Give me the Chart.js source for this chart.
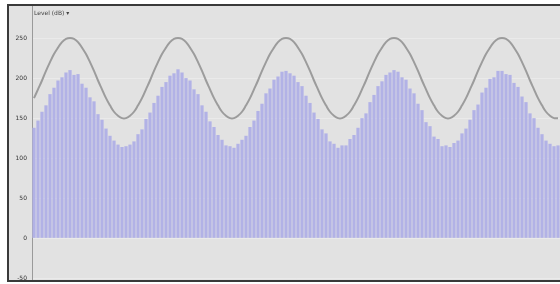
<!DOCTYPE html>
<html>
<head>
<meta charset="utf-8">
<script src="https://cdn.jsdelivr.net/npm/chart.js@4/dist/chart.umd.min.js"></script>
<style>
  body { margin: 0; background: #fff; }
  #box {
    position: absolute; left: 7px; top: 4px; width: 553px; height: 278px;
    box-sizing: border-box; background: #e2e2e2;
    border-top: 2px solid #3a3a3a; border-left: 2px solid #3a3a3a; border-bottom: 2px solid #3a3a3a;
  }
  #wrap { position: relative; width: 551px; height: 274px; }
  #tag {
    position: absolute; left: 34px; top: 9px; font: 6px "DejaVu Sans", sans-serif; color: #444;
  }
</style>
</head>
<body>
<div id="box"><div id="wrap"><canvas id="chart"></canvas></div></div>
<div id="tag">Level (dB) ▾</div>
<script>
// y tick values
const yTicks = [250, 200, 150, 100, 50, 0, -50];

// smooth reference level (grey curve)
const level = [
  175, 186, 197, 209, 220, 230, 238, 245, 249,
  250, 249, 245, 238, 230, 220, 209, 197, 186, 175, 166, 158, 153, 150, 150, 153, 158, 166, 175, 186, 197, 209, 220, 230, 238, 245, 249,
  250, 249, 245, 238, 230, 220, 209, 197, 186, 175, 166, 158, 153, 150, 150, 153, 158, 166, 175, 186, 197, 209, 220, 230, 238, 245, 249,
  250, 249, 245, 238, 230, 220, 209, 197, 186, 175, 166, 158, 153, 150, 150, 153, 158, 166, 175, 186, 197, 209, 220, 230, 238, 245, 249,
  250, 249, 245, 238, 230, 220, 209, 197, 186, 175, 166, 158, 153, 150, 150, 153, 158, 166, 175, 186, 197, 209, 220, 230, 238, 245, 249,
  250, 249, 245, 238, 230, 220, 209, 197, 186, 175, 166, 158, 153, 150, 150
];

// measured samples (blue bars)
const samples = [
  138, 147, 158, 166, 180, 188, 197, 201, 207,
  210, 204, 205, 193, 188, 176, 171, 155, 148, 137, 128, 122, 117, 114, 115, 117, 121, 130, 136, 149, 157, 169, 178, 189, 195, 203, 206,
  211, 207, 200, 197, 186, 180, 166, 158, 146, 139, 129, 123, 116, 115, 113, 118, 123, 128, 139, 147, 159, 168, 181, 187, 198, 202, 208,
  209, 206, 203, 195, 190, 178, 169, 157, 149, 136, 131, 121, 118, 113, 116, 116, 124, 129, 138, 150, 156, 170, 179, 190, 196, 204, 207,
  210, 208, 201, 198, 187, 181, 168, 160, 145, 140, 127, 124, 115, 116, 114, 119, 122, 131, 137, 148, 160, 167, 182, 188, 199, 201, 209,
  209, 205, 204, 194, 189, 177, 170, 156, 150, 138, 130, 122, 118, 115, 116
];

const labels = samples.map((_, i) => i + 1);

new Chart(document.getElementById('chart'), {
  data: {
    labels: labels,
    datasets: [
      {
        type: 'line',
        data: level,
        borderColor: '#9c9c9c',
        borderWidth: 2,
        pointRadius: 0,
        tension: 0.4,
        order: 0
      },
      {
        type: 'bar',
        data: samples,
        backgroundColor: '#b2b2e6',
        borderWidth: 0,
        barPercentage: 0.82,
        categoryPercentage: 1,
        order: 1
      }
    ]
  },
  options: {
    responsive: true,
    maintainAspectRatio: false,
    animation: false,
    layout: { padding: 0 },
    plugins: { legend: { display: false }, tooltip: { enabled: false } },
    scales: {
      x: { display: false },
      y: {
        min: -52, max: 290,
        afterBuildTicks: s => { s.ticks = yTicks.map(v => ({ value: v })); },
        afterFit: s => { s.width = 23; s.paddingTop = 0; s.paddingBottom = 0; },
        ticks: { font: { size: 6, family: 'DejaVu Sans' }, color: '#333', padding: 5 },
        grid: { color: '#eaeaea', drawTicks: false },
        border: { color: '#9a9a9a', width: 1 }
      }
    }
  }
});
</script>
</body>
</html>
